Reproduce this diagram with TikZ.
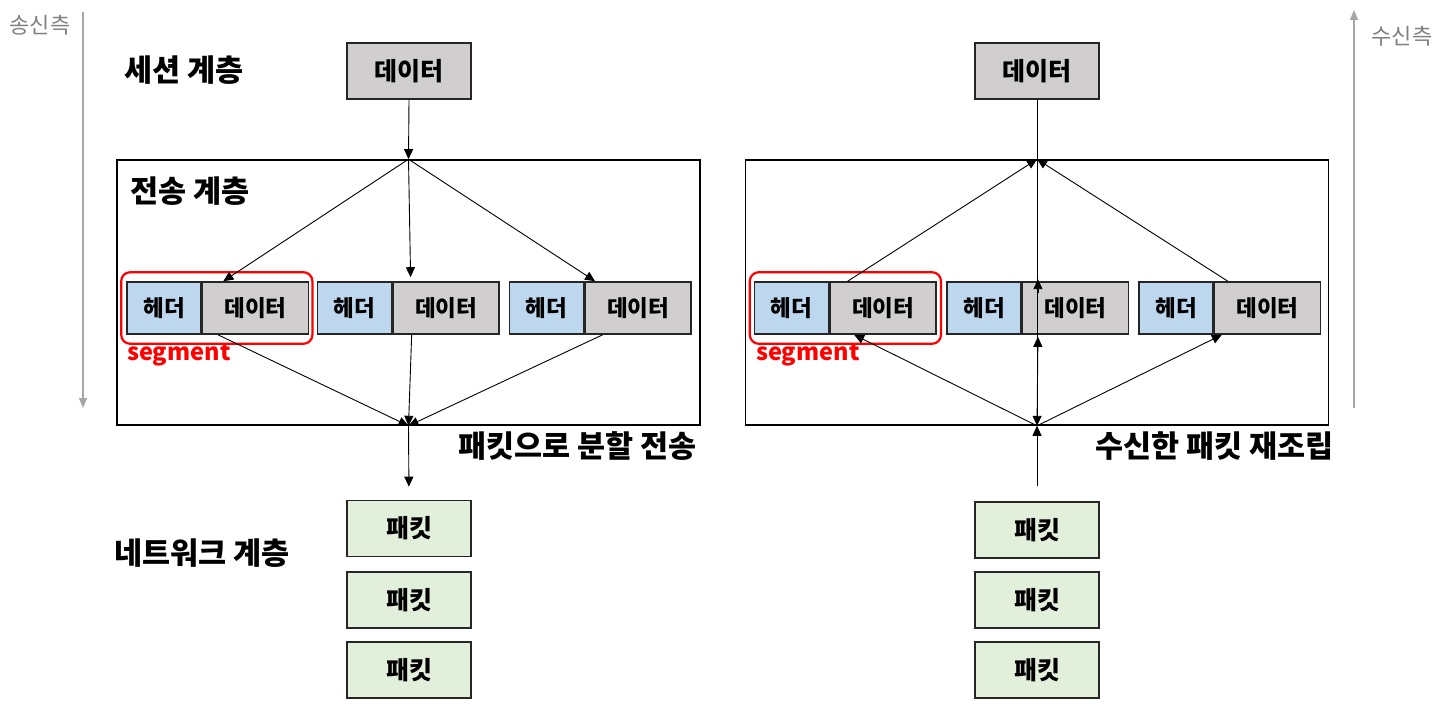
\documentclass[tikz,border=0pt]{standalone}
\usepackage{fontspec}
\setmainfont{Noto Sans CJK KR}
\usetikzlibrary{arrows.meta,calc,backgrounds}
\definecolor{hdr}{HTML}{BDD7EE}
\definecolor{dat}{HTML}{D0CECE}
\definecolor{pkt}{HTML}{E2EFDA}
\definecolor{gry}{HTML}{A6A6A6}
\definecolor{txtgry}{HTML}{808080}
\definecolor{bord}{HTML}{262626}
\begin{document}
\begin{tikzpicture}[x=1pt,y=-1pt,
  every node/.style={font=\bfseries},
  bigbox/.style={draw=bord,line width=1.6pt,fill=dat,minimum width=124pt,minimum height=56pt,inner sep=0pt,font=\bfseries\fontsize{25}{25}\selectfont},
  pktbox/.style={bigbox,fill=pkt},
  hbox/.style={draw=bord,line width=1.6pt,fill=hdr,minimum width=74pt,minimum height=52pt,inner sep=0pt,font=\bfseries\fontsize{22.5}{22.5}\selectfont},
  dbox/.style={hbox,fill=dat,minimum width=106pt},
  layer/.style={font=\bfseries\fontsize{30.5}{30.5}\selectfont,inner sep=0pt},
  layerframe/.style={draw=black,line width=1.6pt,minimum width=583pt,minimum height=265pt,inner sep=0pt},
  arr/.style={line width=0.9pt,-{Triangle[length=10pt,width=9pt]}},
  darr/.style={line width=0.9pt,{Triangle[length=10pt,width=9pt]}-{Triangle[length=10pt,width=9pt]}},
  side/.style={draw=gry,line width=1.3pt,-{Triangle[length=10pt,width=8pt]}},
  sidetext/.style={text=txtgry,font=\fontsize{22}{22}\selectfont,inner sep=0pt},
  seglabel/.style={text=red,font=\bfseries\fontsize{23.5}{23.5}\selectfont,anchor=west,inner sep=0pt},
  segframe/.style={draw=red,line width=2.2pt,rounded corners=9pt}
]
\useasboundingbox[fill=white] (0,0) rectangle (1445,708);

% side indicators
\coordinate (sL1) at (83,12);
\coordinate (sL2) at (83,408);
\coordinate (sR1) at (1354,408);
\coordinate (sR2) at (1354,10);
\draw[side] (sL1) -- (sL2);
\draw[side] (sR1) -- (sR2);
\node[sidetext] (sendT) at (40,25) {송신측};
\node[sidetext] (recvT) at (1402,36) {수신측};

% layer labels
\node[layer] (sess) at (184,70) {세션 계층};
\node[layer] (trans) at (190,191) {전송 계층};
\node[layer] (net) at (202,553) {네트워크 계층};
\node[layer,anchor=east] (splitT) at (697,446) {패킷으로 분할 전송};
\node[layer,anchor=east] (reasm) at (1334,446) {수신한 패킷 재조립};

% ---------------- left (sender) ----------------
\node[bigbox] (dataL) at (409,71) {데이터};
\node[layerframe] (tL) at (408.5,292.5) {};
\node[hbox] (hL1) at (164,308) {헤더};
\node[dbox,anchor=west] (dL1) at (hL1.east) {데이터};
\node[hbox] (hL2) at (354.5,308) {헤더};
\node[dbox,anchor=west] (dL2) at (hL2.east) {데이터};
\node[hbox] (hL3) at (546.5,308) {헤더};
\node[dbox,anchor=west] (dL3) at (hL3.east) {데이터};
\draw[segframe] ($(hL1.north west)+(-5,-9)$) rectangle ($(dL1.south east)+(3,9)$);
\node[seglabel] (segL) at (127,355) {segment};
\node[pktbox] (pL1) at (409,528.5) {패킷};
\node[pktbox] (pL2) at (409,600) {패킷};
\node[pktbox] (pL3) at (409,670) {패킷};

\draw[arr] (dataL.south) -- (tL.north);
\draw[arr] (tL.north) -- ($(dL1.north west)!0.2!(dL1.north east)$);
\draw[arr] (tL.north) -- ($(dL2.north west)!0.17!(dL2.north east)+(0,-4)$);
\draw[arr] (tL.north) -- ($(dL3.north west)!0.1!(dL3.north east)$);
\draw[arr] ($(dL1.south west)!0.15!(dL1.south east)$) -- (tL.south);
\draw[arr] ($(dL2.south west)!0.18!(dL2.south east)$) -- (tL.south);
\draw[arr] ($(dL3.south west)!0.17!(dL3.south east)$) -- (tL.south);
\draw[arr,shorten >=13pt] (tL.south) -- (pL1.north);

% ---------------- right (receiver) ----------------
\node[bigbox] (dataR) at (1037,71) {데이터};
\node[layerframe] (tR) at (1037,292.5) {};
\node[hbox] (hR1) at (791.6,308) {헤더};
\node[dbox,anchor=west] (dR1) at (hR1.east) {데이터};
\node[hbox] (hR2) at (984,308) {헤더};
\node[dbox,anchor=west] (dR2) at (hR2.east) {데이터};
\node[hbox] (hR3) at (1176,308) {헤더};
\node[dbox,anchor=west] (dR3) at (hR3.east) {데이터};
\draw[segframe] ($(hR1.north west)+(-4,-9)$) rectangle ($(dR1.south east)+(4,9)$);
\node[seglabel] (segR) at (756,355) {segment};
\node[pktbox] (pR1) at (1037,530) {패킷};
\node[pktbox] (pR2) at (1037,600) {패킷};
\node[pktbox] (pR3) at (1037,670) {패킷};

\draw[line width=0.9pt] (dataR.south) -- (tR.south);
\draw[arr] ($(dR2.north west)!0.15!(dR2.north east)+(0,12)$) -- ($(dR2.north west)!0.15!(dR2.north east)+(0,-2)$);
\draw[darr] ($(dR2.south west)!0.15!(dR2.south east)+(0,2)$) -- (tR.south);
\draw[arr] ($(dR1.north west)!0.17!(dR1.north east)$) -- (tR.north);
\draw[arr] ($(dR3.north west)!0.13!(dR3.north east)$) -- (tR.north);
\draw[arr] (tR.south) -- ($(dR1.south west)!0.23!(dR1.south east)$);
\draw[arr] (tR.south) -- ($(dR3.south west)!0.075!(dR3.south east)$);
\draw[arr,shorten <=15pt] (pR1.north) -- (tR.south);
\end{tikzpicture}
\end{document}
